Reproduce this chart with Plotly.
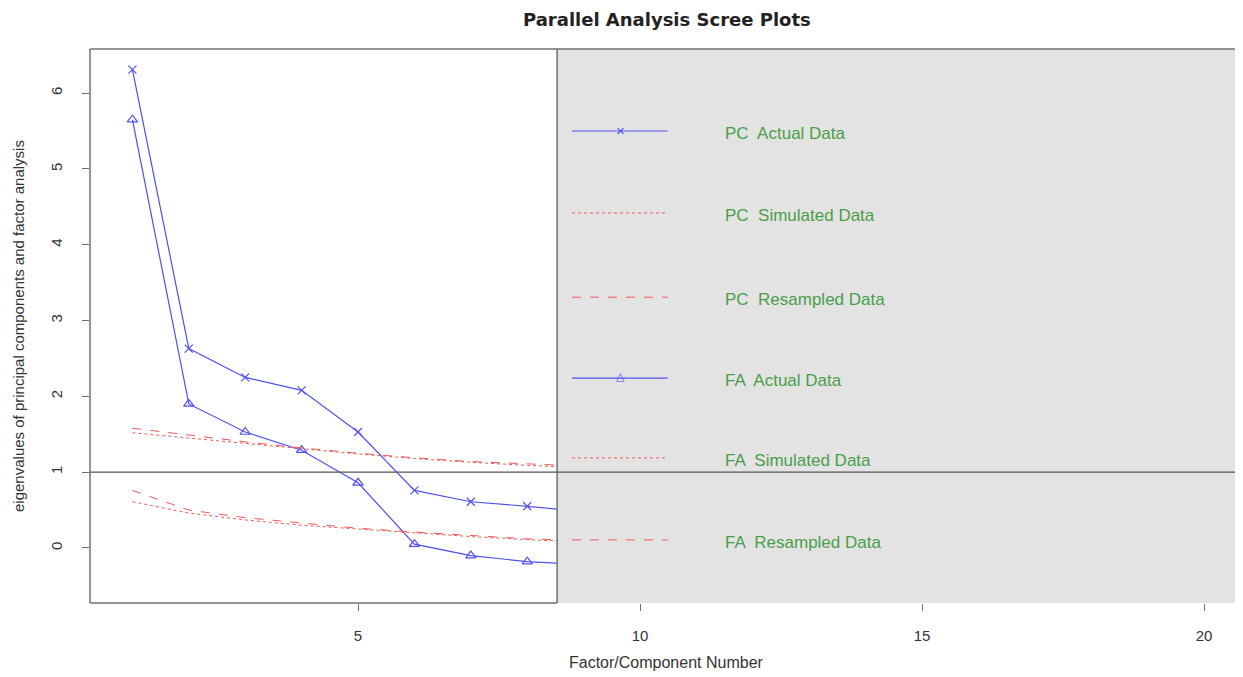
import plotly.graph_objects as go

# ---- data ----
components = [1, 2, 3, 4, 5, 6, 7, 8, 9]
pc_actual = [6.31, 2.63, 2.25, 2.08, 1.53, 0.76, 0.61, 0.55, 0.48]
fa_actual = [5.65, 1.90, 1.53, 1.29, 0.86, 0.05, -0.10, -0.18, -0.22]
pc_simulated = [1.52, 1.45, 1.38, 1.31, 1.24, 1.18, 1.13, 1.09, 1.06]
pc_resampled = [1.58, 1.49, 1.40, 1.32, 1.25, 1.19, 1.14, 1.11, 1.08]
fa_simulated = [0.61, 0.46, 0.37, 0.30, 0.25, 0.20, 0.15, 0.11, 0.08]
fa_resampled = [0.76, 0.50, 0.40, 0.33, 0.26, 0.21, 0.16, 0.12, 0.10]

x_ticks = [5, 10, 15, 20]
y_ticks = [0, 1, 2, 3, 4, 5, 6]

legend_labels = ["PC  Actual Data", "PC  Simulated Data", "PC  Resampled Data",
                 "FA  Actual Data", "FA  Simulated Data", "FA  Resampled Data"]

title = "Parallel Analysis Scree Plots"
x_title = "Factor/Component Number"
y_title = "eigenvalues of principal components and factor analysis"

# ---- style ----
BLUE = "#5050ee"
RED = "#ee5a5a"
GREEN = "#4a9e4a"
GREY_BOX = "#e3e3e3"
FRAME = "#707070"
FONT = "Liberation Sans, Arial, sans-serif"

X_RANGE = [0.248, 20.69]
Y_RANGE = [-0.726, 6.583]
BOX_X = 8.53

fig = go.Figure()

fig.add_trace(go.Scatter(x=components, y=pc_actual, mode="lines+markers",
                         line=dict(color=BLUE, width=1.2),
                         marker=dict(symbol="x-thin-open", size=8, color=BLUE,
                                     line=dict(color=BLUE, width=1.2)),
                         showlegend=False))
fig.add_trace(go.Scatter(x=components, y=fa_actual, mode="lines+markers",
                         line=dict(color=BLUE, width=1.2),
                         marker=dict(symbol="triangle-up-open", size=9, color=BLUE,
                                     line=dict(color=BLUE, width=1.2)),
                         showlegend=False))
for vals, dash in [(pc_simulated, "dot"), (pc_resampled, "dash"),
                   (fa_simulated, "dot"), (fa_resampled, "dash")]:
    fig.add_trace(go.Scatter(x=components, y=vals, mode="lines",
                             line=dict(color=RED, width=1, dash=dash),
                             showlegend=False))

shapes = []
# grey legend box covering the right part
shapes.append(dict(type="rect", xref="x", yref="paper", x0=BOX_X, x1=X_RANGE[1],
                   y0=0, y1=1, fillcolor=GREY_BOX, line=dict(width=0), layer="above"))
# frame
shapes.append(dict(type="line", xref="paper", yref="paper", x0=0, x1=1, y0=1, y1=1,
                   line=dict(color=FRAME, width=1.5), layer="above"))
shapes.append(dict(type="line", xref="paper", yref="paper", x0=0, x1=0, y0=0, y1=1,
                   line=dict(color=FRAME, width=1.5), layer="above"))
shapes.append(dict(type="line", xref="x", yref="paper", x0=X_RANGE[0], x1=BOX_X, y0=0, y1=0,
                   line=dict(color=FRAME, width=1.5), layer="above"))
shapes.append(dict(type="line", xref="x", yref="paper", x0=BOX_X, x1=BOX_X, y0=0, y1=1,
                   line=dict(color=FRAME, width=1.5), layer="above"))
# reference line at eigenvalue 1
shapes.append(dict(type="line", xref="paper", yref="y", x0=0, x1=1, y0=1, y1=1,
                   line=dict(color="#555555", width=1.2), layer="above"))

# legend samples (paper coordinates)
row_y = [0.852, 0.704, 0.552, 0.406, 0.262, 0.114]
line_styles = [(BLUE, "solid"), (RED, "dot"), (RED, "dash"),
               (BLUE, "solid"), (RED, "dot"), (RED, "dash")]
lx0, lx1, lxm = 0.418, 0.501, 0.4597
annotations = []
for ry, (col, dash), lab in zip(row_y, line_styles, legend_labels):
    shapes.append(dict(type="line", xref="paper", yref="paper", x0=lx0, x1=lx1, y0=ry, y1=ry,
                       line=dict(color=col, width=1.2 if dash == "solid" else 1, dash=dash),
                       layer="above"))
    annotations.append(dict(xref="paper", yref="paper", x=0.549, y=ry - 0.004, text=lab,
                            showarrow=False, xanchor="left", yanchor="middle",
                            font=dict(family=FONT, size=17, color=GREEN)))
annotations.append(dict(xref="paper", yref="paper", x=lxm, y=row_y[0], text="×",
                        showarrow=False, xanchor="center", yanchor="middle",
                        font=dict(family=FONT, size=15, color=BLUE)))
annotations.append(dict(xref="paper", yref="paper", x=lxm, y=row_y[3] + 0.002, text="△",
                        showarrow=False, xanchor="center", yanchor="middle",
                        font=dict(family="DejaVu Sans", size=11, color=BLUE)))

# titles
annotations.append(dict(xref="paper", yref="paper", x=0.5, y=1, yshift=30, text="<b>" + title + "</b>",
                        showarrow=False, xanchor="center", yanchor="middle",
                        font=dict(family="DejaVu Sans, sans-serif", size=18, color="#222222")))
annotations.append(dict(xref="paper", yref="paper", x=0.5, y=0, yshift=-59, text=x_title,
                        showarrow=False, xanchor="center", yanchor="middle",
                        font=dict(family=FONT, size=16, color="#333333")))
annotations.append(dict(xref="paper", yref="paper", x=0, xshift=-72, y=0.5, text=y_title,
                        textangle=-90, showarrow=False, xanchor="center", yanchor="middle",
                        font=dict(family=FONT, size=15, color="#333333")))

# the page body has an 8px margin, so the figure is shrunk by that amount
fig.update_layout(
    width=1235, height=669,
    margin=dict(l=82, r=0, t=41, b=74),
    paper_bgcolor="white", plot_bgcolor="white",
    shapes=shapes, annotations=annotations,
    showlegend=False,
    font=dict(family=FONT, color="#333333"),
)
fig.update_xaxes(range=X_RANGE, tickvals=x_ticks, ticktext=[str(v) for v in x_ticks],
                 showgrid=False, zeroline=False, showline=False,
                 ticks="outside", ticklen=7, tickcolor=FRAME, tickwidth=1,
                 ticklabelstandoff=12, tickfont=dict(family=FONT, size=15, color="#333333"))
fig.update_yaxes(range=Y_RANGE, tickvals=y_ticks, ticktext=[str(v) for v in y_ticks],
                 showgrid=False, zeroline=False, showline=False,
                 ticks="outside", ticklen=7, tickcolor=FRAME, tickwidth=1, tickangle=-90,
                 ticklabelstandoff=14, tickfont=dict(family=FONT, size=15, color="#333333"))

fig.write_html("out.html")
